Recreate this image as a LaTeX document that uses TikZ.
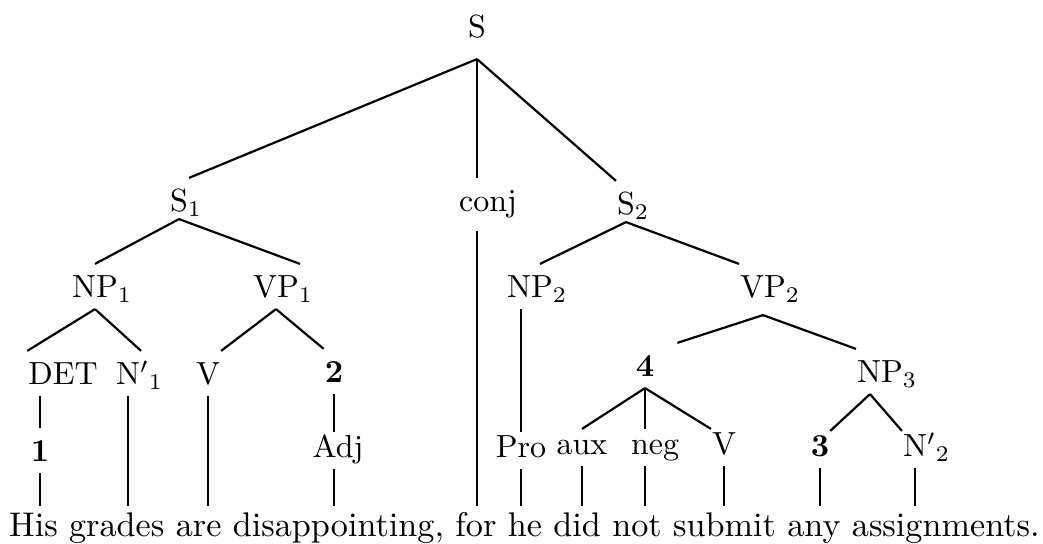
\documentclass[tikz,border=0pt]{standalone}
\usepackage{graphicx}

\newcommand{\lb}[1]{\scalebox{1.6}{#1}}
\newcommand{\sentence}[1]{\scalebox{1.71}{#1}}

\begin{document}
\begin{tikzpicture}[x=0.5pt, y=-0.5pt, line width=1.1pt,
  lbl/.style={anchor=base, inner sep=0pt, text height=16.5pt, text depth=5pt},
  leaf/.style={lbl, text height=12.5pt}]

\useasboundingbox (0,0) rectangle (1043,544);

\node[lbl, text depth=10pt] (S) at (477,38) {\lb{S}};

\node[lbl, text depth=3pt] (S1) at (179,212) {\lb{S\rlap{\textsubscript{1}}}};
\node[lbl, text depth=9pt] (conj) at (488,212) {\lb{conj}};
\node[lbl, text depth=3pt] (S2) at (626,215) {\lb{S\rlap{\textsubscript{2}}}};

\node[lbl] (NP1) at (95,298) {\lb{NP\rlap{\textsubscript{1}}}};
\node[lbl] (VP1) at (276,298) {\lb{VP\rlap{\textsubscript{1}}}};
\node[lbl] (NP2) at (530,298) {\lb{NP\rlap{\textsubscript{2}}}};
\node[lbl, text depth=8pt] (VP2) at (763,298) {\lb{VP\rlap{\textsubscript{2}}}};

\node[lbl] (DET) at (63,385) {\lb{DET}};
\node[lbl] (N1) at (128,385) {\lb{N\rlap{$'$\textsubscript{1}}}};
\node[lbl] (V1) at (208,385) {\lb{V}};
\node[lbl] (two) at (334,383) {\lb{\textbf{2}}};
\node[lbl] (four) at (645,377) {\lb{\textbf{4}}};
\node[lbl] (NP3) at (880,383) {\lb{NP\rlap{\textsubscript{3}}}};

\node[lbl] (one) at (40,462) {\lb{\textbf{1}}};
\node[leaf] (Adj) at (338,458) {\lb{Adj}};
\node[leaf] (Pro) at (521,458) {\lb{Pro}};
\node[leaf] (aux) at (582,455) {\lb{aux}};
\node[leaf] (neg) at (655,455) {\lb{neg}};
\node[leaf] (V2) at (724,455) {\lb{V}};
\node[leaf] (three) at (820,457) {\lb{\textbf{3}}};
\node[leaf] (N2) at (915,457) {\lb{N\rlap{$'$\textsubscript{2}}}};

\node[anchor=base west, inner sep=0pt, text height=14.5pt] (sent) at (8,536) {\sentence{His grades are disappointing, for he did not submit any assignments.}};

\draw (S.south) -- (S1.north east);
\draw (S.south) -- (S.south |- conj.north);
\draw (S.south) -- (S2.north west);

\draw (S1.south) -- (NP1.north);
\draw (S1.south) -- (VP1.north east);
\draw (S2.south) -- ([xshift=5pt]NP2.north);
\draw (S2.south) -- (VP2.north west);

\draw (NP1.south) -- (DET.north west);
\draw (NP1.south) -- (N1.north east);
\draw (VP1.south) -- (V1.north east);
\draw (VP1.south) -- (two.north west);
\draw (VP2.south) -- ([xshift=11pt]four.north east);
\draw (VP2.south) -- (NP3.north west);

\draw (one.north |- DET.south) -- (one.north);
\draw (two.south) -- (two.south |- Adj.north);
\draw (Pro.north) -- (Pro.north |- NP2.south);
\draw (four.south) -- (aux.north);
\draw (four.south) -- (four.south |- neg.north);
\draw (four.south) -- (V2.north west);
\draw ([xshift=-5pt]NP3.south) -- (three.north east);
\draw ([xshift=-5pt]NP3.south) -- (N2.north west);

\draw (one.south) -- (one.south |- sent.north);
\draw (N1.south) -- (N1.south |- sent.north);
\draw (V1.south) -- (V1.south |- sent.north);
\draw (two.south |- Adj.south) -- (two.south |- sent.north);
\draw (S.south |- conj.south) -- (S.south |- sent.north);
\draw (Pro.south) -- (Pro.south |- sent.north);
\draw (aux.south) -- (aux.south |- sent.north);
\draw (four.south |- neg.south) -- (four.south |- sent.north);
\draw (V2.south) -- (V2.south |- sent.north);
\draw (three.south) -- (three.south |- sent.north);
\draw (N2.south) -- (N2.south |- sent.north);

\end{tikzpicture}
\end{document}
